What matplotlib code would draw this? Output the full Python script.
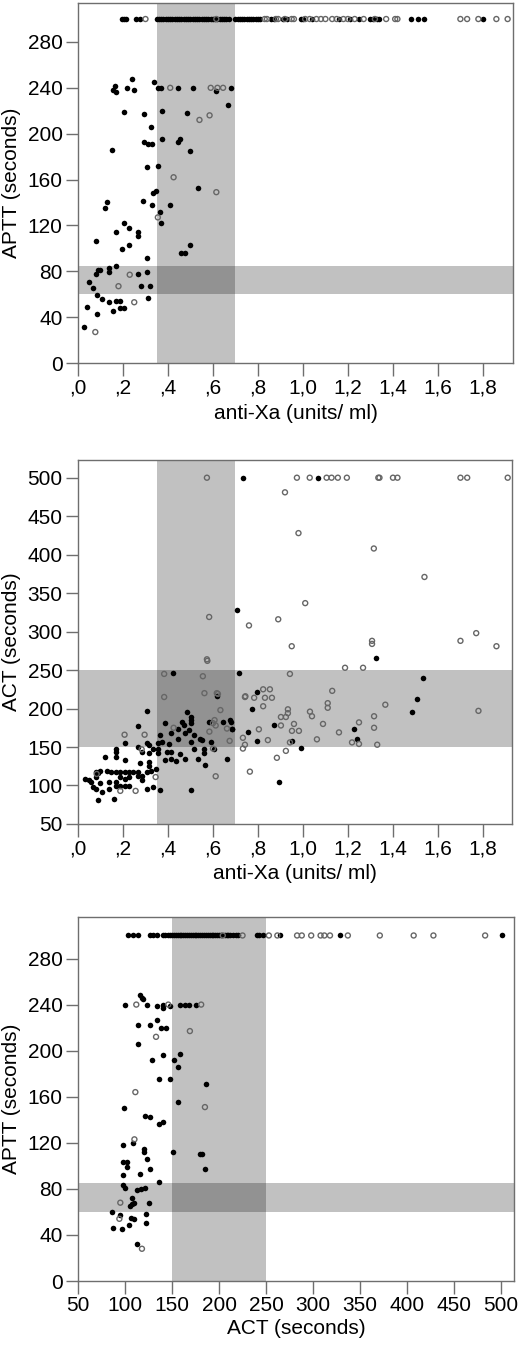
import numpy as np
import matplotlib
matplotlib.use("Agg")
import matplotlib.pyplot as plt

plt.rcParams['font.family'] = ['Liberation Sans', 'DejaVu Sans']

# --- panel 1: APTT vs anti-Xa ---
p1_top_filled_x = [0.195, 0.205, 0.215, 0.26, 0.275, 0.35, 0.36, 0.37, 0.38, 0.39, 0.40, 0.41,
                   0.42, 0.43, 0.44, 0.45, 0.46, 0.47, 0.48, 0.49, 0.50, 0.51, 0.52, 0.53, 0.54,
                   0.55, 0.56, 0.57, 0.58, 0.59, 0.60, 0.61, 0.62, 0.63, 0.64, 0.65, 0.66, 0.67,
                   0.70, 0.71, 0.72, 0.73, 0.74, 0.75, 0.76, 0.77, 0.78, 0.79, 0.80, 0.81, 0.86,
                   0.87, 0.91, 0.93, 0.99, 1.00, 1.04, 1.16, 1.21, 1.25, 1.30, 1.31, 1.33, 1.34,
                   1.48, 1.51, 1.54, 1.80]
p1_top_open_x = [0.30, 0.615, 0.83, 0.84, 0.88, 0.89, 0.92, 0.95, 0.96, 1.01, 1.03, 1.06, 1.08,
                 1.10, 1.13, 1.15, 1.18, 1.20, 1.23, 1.27, 1.32, 1.37, 1.41, 1.42, 1.70, 1.73,
                 1.78, 1.86, 1.91]
p1_top_y = 300

p1_filled_x = [0.157, 0.164, 0.168, 0.22, 0.24, 0.25, 0.34, 0.356, 0.37, 0.445, 0.51, 0.615,
               0.68, 0.665, 0.205, 0.295, 0.375, 0.485, 0.325, 0.295, 0.31, 0.33, 0.375, 0.445,
               0.455, 0.50, 0.15, 0.305, 0.355, 0.535, 0.335, 0.128, 0.118, 0.29, 0.33, 0.345,
               0.363, 0.37, 0.41, 0.205, 0.225, 0.168, 0.265, 0.265, 0.08, 0.225, 0.197, 0.305,
               0.46, 0.475, 0.50, 0.17, 0.137, 0.137, 0.09, 0.10, 0.08, 0.265, 0.305, 0.05, 0.28,
               0.32, 0.065, 0.085, 0.107, 0.31, 0.137, 0.167, 0.185, 0.04, 0.185, 0.205, 0.155,
               0.085, 0.025]
p1_filled_y = [238, 242, 236, 240, 248, 238, 245, 240, 240, 240, 240, 237,
               240, 225, 219, 217, 220, 218, 206, 193, 191, 191, 195, 193,
               195, 185, 186, 171, 172, 153, 148, 140, 135, 141, 138, 150,
               132, 122, 138, 122, 118, 114, 114, 111, 106, 103, 99, 92,
               96, 96, 103, 85, 83, 79, 81, 81, 78, 78, 79, 71, 67,
               67, 65, 59, 56, 57, 53, 54, 54, 49, 48, 48, 45,
               43, 31]
p1_open_x = [0.41, 0.59, 0.62, 0.645, 0.54, 0.585, 0.425, 0.615, 0.355, 0.23, 0.18, 0.25, 0.077]
p1_open_y = [240, 240, 240, 240, 212, 216, 162, 149, 127, 77, 67, 53, 27]

# --- panel 2: ACT vs anti-Xa ---
p2_filled_x = [0.735, 1.067, 0.705, 1.325, 0.715, 1.533, 0.795, 0.773, 1.506, 1.484, 0.871,
               0.676, 0.684, 0.755, 1.227, 0.795, 0.951, 1.24, 0.991, 0.893, 0.423, 0.62,
               0.307, 0.267, 0.207, 0.307, 0.167, 0.167, 0.167, 0.118, 0.207, 0.267, 0.286,
               0.316, 0.316, 0.335, 0.356, 0.356, 0.356, 0.366, 0.375, 0.385, 0.404, 0.385,
               0.396, 0.415, 0.415, 0.444, 0.444, 0.464, 0.471, 0.484, 0.504, 0.504, 0.504,
               0.474, 0.493, 0.514, 0.544, 0.551, 0.504, 0.56, 0.56, 0.516, 0.533, 0.563,
               0.474, 0.415, 0.437, 0.455, 0.504, 0.582, 0.644, 0.681, 0.684, 0.593, 0.604,
               0.664, 0.345, 0.326, 0.316, 0.316, 0.276, 0.307, 0.286, 0.267, 0.286, 0.364,
               0.335, 0.305, 0.267, 0.246, 0.227, 0.207, 0.188, 0.227, 0.207, 0.188, 0.167,
               0.148, 0.129, 0.138, 0.227, 0.207, 0.188, 0.167, 0.167, 0.138, 0.159, 0.099,
               0.108, 0.089, 0.079, 0.079, 0.079, 0.089, 0.059, 0.049, 0.03, 0.099, 0.068]
p2_filled_y = [500, 500, 328, 266, 246, 240, 221, 199, 212, 196, 178,
               185, 173, 169, 173, 158, 158, 160, 149, 104, 246, 216,
               197, 177, 155, 155, 148, 143, 137, 137, 133, 150, 143,
               153, 142, 148, 155, 148, 142, 165, 157, 181, 154, 133,
               144, 144, 168, 161, 174, 182, 179, 196, 189, 185, 181,
               168, 172, 166, 161, 159, 157, 148, 142, 148, 134, 127,
               135, 135, 132, 141, 94, 183, 182, 182, 173, 157, 148,
               135, 121, 119, 125, 131, 129, 118, 112, 112, 107, 94,
               98, 95, 117, 117, 117, 117, 117, 111, 109, 111, 117,
               118, 119, 105, 99, 99, 99, 99, 105, 95, 83, 103,
               91, 81, 96, 111, 118, 116, 104, 107, 108, 119, 98]
p2_open_x = [0.573, 0.973, 1.03, 1.105, 1.127, 1.155, 1.195, 1.335, 1.34, 1.40, 1.42, 1.70,
             1.73, 1.91, 0.92, 0.98, 1.315, 1.54, 1.01, 0.89, 0.76, 0.583, 0.573, 0.95, 1.307,
             1.307, 1.70, 1.77, 1.86, 0.942, 1.187, 1.267, 0.742, 0.783, 0.823, 0.853, 0.831,
             0.862, 0.823, 1.13, 1.11, 1.11, 1.366, 1.78, 0.933, 0.933, 0.924, 0.902, 1.031,
             1.04, 1.316, 1.249, 0.902, 0.96, 1.089, 0.804, 0.951, 0.982, 1.316, 1.16, 0.733,
             0.844, 0.942, 1.062, 1.218, 1.249, 1.33, 0.742, 0.733, 0.924, 0.884, 0.764, 0.575,
             0.383, 0.555, 0.383, 0.562, 0.617, 0.622, 0.744, 0.207, 0.296, 0.283, 0.425, 0.60,
             0.607, 0.612, 0.584, 0.633, 0.662, 0.674, 0.60, 0.612, 0.345, 0.188, 0.256, 0.083]
p2_open_y = [500, 500, 500, 500, 500, 500, 500, 500, 500, 500, 500, 500,
             500, 500, 481, 428, 408, 371, 337, 316, 308, 319, 264, 281, 288,
             284, 288, 298, 281, 245, 253, 253, 215, 214, 225, 225, 214,
             214, 203, 223, 207, 201, 205, 197, 199, 194, 189, 189, 196,
             190, 190, 182, 178, 180, 180, 173, 171, 171, 175, 169, 162,
             159, 156, 160, 156, 154, 153, 153, 148, 145, 136, 118, 262,
             245, 242, 215, 220, 220, 219, 216, 166, 166, 147, 175, 181,
             185, 178, 170, 198, 174, 158, 148, 112, 111, 93, 93, 115]

# --- panel 3: APTT vs ACT ---
p3_top_filled_x = [103, 109, 114, 127, 130, 134, 140, 143, 146, 148, 150, 152, 154, 156, 158,
                   160, 162, 164, 166, 168, 170, 172, 174, 176, 178, 180, 182, 184, 186, 188,
                   190, 192, 194, 196, 198, 200, 202, 206, 208, 210, 212, 215, 218, 220, 240,
                   243, 247, 265, 329, 501]
p3_top_open_x = [204, 225, 253, 262, 283, 288, 298, 308, 312, 318, 337, 371, 407, 428, 483]
p3_top_y = 300

p3_filled_x = [100, 123, 116, 118, 119, 134, 140, 140, 148, 158, 164, 168, 175, 134, 114, 127,
               138, 144, 114, 129, 140, 152, 159, 156, 136, 148, 186, 156, 99, 121, 127, 136,
               140, 98, 108, 120, 120, 123, 98, 102, 102, 151, 180, 182, 185, 127, 116, 98, 98,
               100, 136, 113, 117, 121, 107, 110, 107, 105, 125, 86, 95, 106, 110, 122, 87, 97,
               104, 122, 113]
p3_filled_y = [240, 240, 248, 246, 245, 239, 240, 237, 239, 240, 240, 240, 240, 227, 222, 222,
               220, 220, 206, 192, 196, 192, 197, 186, 175, 175, 171, 155, 150, 143, 142, 136,
               138, 118, 120, 115, 112, 106, 103, 103, 99, 112, 110, 110, 97, 97, 93, 92, 83,
               81, 86, 79, 80, 81, 72, 68, 67, 65, 68, 60, 57, 55, 54, 58, 46, 45,
               49, 50, 32]
p3_open_x = [112, 146, 181, 133, 169, 111, 185, 110, 95, 94, 118]
p3_open_y = [240, 240, 240, 212, 217, 164, 151, 123, 68, 54, 28]

xa_ticks = [0.0, 0.2, 0.4, 0.6, 0.8, 1.0, 1.2, 1.4, 1.6, 1.8]
xa_ticklabels = [',0', ',2', ',4', ',6', ',8', '1,0', '1,2', '1,4', '1,6', '1,8']
aptt_ticks = [0, 40, 80, 120, 160, 200, 240, 280]
act_ticks = [50, 100, 150, 200, 250, 300, 350, 400, 450, 500]

# target ranges (shaded)
xa_range = (0.35, 0.7)
aptt_range = (60, 85)
act_range = (150, 250)

fs = 15
shade = dict(color='black', alpha=0.245, lw=0, zorder=0)


def style(ax):
    for s in ax.spines.values():
        s.set_color('#6e6e6e')
        s.set_linewidth(1.0)
    ax.tick_params(direction='out', length=9, width=1, color='#6e6e6e',
                   labelsize=fs, pad=2)


def dots(ax, fx, fy, ox, oy):
    ax.scatter(fx, fy, s=16, c='black', lw=0, zorder=3)
    ax.scatter(ox, oy, s=13, facecolors='none', edgecolors='#666666', lw=1.0, zorder=3)


fig = plt.figure(figsize=(5.2, 13.49), dpi=100)

ax1 = fig.add_axes([0.15, 0.7309, 0.837, 0.2669])
ax1.axvspan(*xa_range, **shade)
ax1.axhspan(*aptt_range, **shade)
dots(ax1, p1_filled_x + p1_top_filled_x, p1_filled_y + [p1_top_y] * len(p1_top_filled_x),
     p1_open_x + p1_top_open_x, p1_open_y + [p1_top_y] * len(p1_top_open_x))
ax1.set_xlim(0, 1.935)
ax1.set_ylim(0, 314)
ax1.set_xticks(xa_ticks)
ax1.set_xticklabels(xa_ticklabels)
ax1.set_yticks(aptt_ticks)
ax1.set_xlabel('anti-Xa (units/ ml)', fontsize=fs, labelpad=5)
ax1.set_ylabel('APTT (seconds)', fontsize=fs, labelpad=5)
style(ax1)

ax2 = fig.add_axes([0.15, 0.3892, 0.835, 0.2698])
ax2.axvspan(*xa_range, **shade)
ax2.axhspan(*act_range, **shade)
dots(ax2, p2_filled_x, p2_filled_y, p2_open_x, p2_open_y)
ax2.set_xlim(0, 1.93)
ax2.set_ylim(50, 523)
ax2.set_xticks(xa_ticks)
ax2.set_xticklabels(xa_ticklabels)
ax2.set_yticks(act_ticks)
ax2.set_xlabel('anti-Xa (units/ ml)', fontsize=fs, labelpad=4)
ax2.set_ylabel('ACT (seconds)', fontsize=fs, labelpad=5)
style(ax2)

ax3 = fig.add_axes([0.15, 0.0504, 0.839, 0.2698])
ax3.axvspan(*act_range, **shade)
ax3.axhspan(*aptt_range, **shade)
dots(ax3, p3_filled_x + p3_top_filled_x, p3_filled_y + [p3_top_y] * len(p3_top_filled_x),
     p3_open_x + p3_top_open_x, p3_open_y + [p3_top_y] * len(p3_top_open_x))
ax3.set_xlim(50, 514)
ax3.set_ylim(0, 316)
ax3.set_xticks(act_ticks)
ax3.set_yticks(aptt_ticks)
ax3.set_xlabel('ACT (seconds)', fontsize=fs, labelpad=3)
ax3.set_ylabel('APTT (seconds)', fontsize=fs, labelpad=5)
style(ax3)

fig.savefig('out.png', dpi=100)
